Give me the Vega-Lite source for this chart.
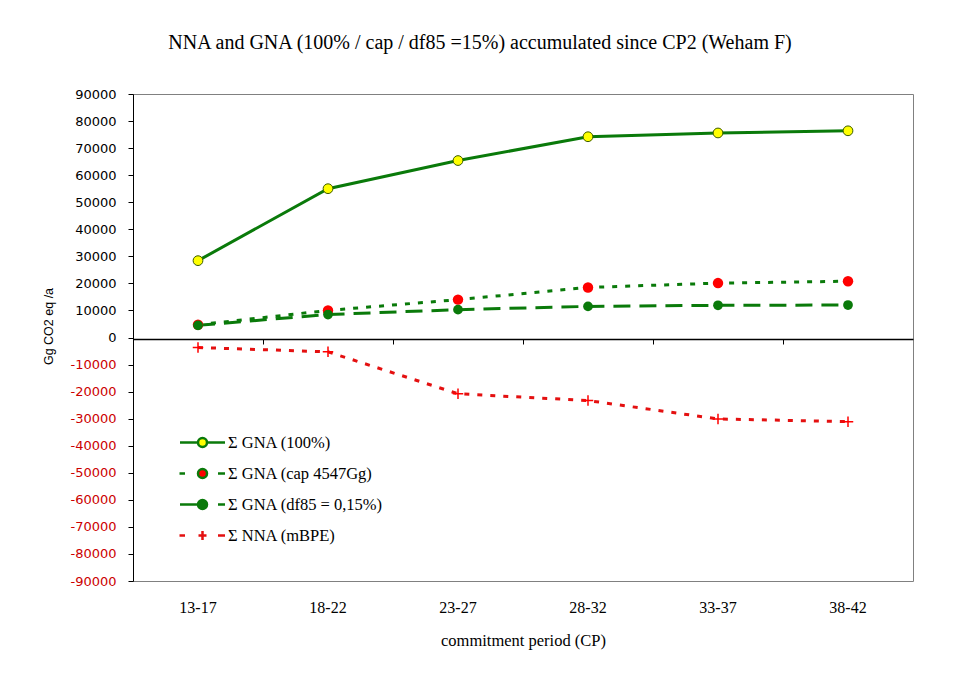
{
  "$schema": "https://vega.github.io/schema/vega-lite/v6.json",
  "width": 780,
  "height": 487,
  "autosize": "none",
  "padding": {"left": 133, "top": 94, "right": 52, "bottom": 111},
  "background": "white",
  "title": {
    "text": "NNA and GNA (100% / cap / df85 =15%) accumulated since CP2 (Weham F)",
    "font": "Liberation Serif",
    "fontSize": 20,
    "fontWeight": "normal",
    "color": "black",
    "anchor": "middle",
    "frame": "group",
    "dx": -43,
    "offset": 35
  },
  "config": {
    "view": {"stroke": "#808080", "strokeWidth": 1},
    "axis": {"grid": false}
  },
  "data": {
    "values": [
      {"cp": "13-17", "series": "Σ GNA (100%)", "value": 28400},
      {"cp": "18-22", "series": "Σ GNA (100%)", "value": 55000},
      {"cp": "23-27", "series": "Σ GNA (100%)", "value": 65400},
      {"cp": "28-32", "series": "Σ GNA (100%)", "value": 74200},
      {"cp": "33-37", "series": "Σ GNA (100%)", "value": 75600},
      {"cp": "38-42", "series": "Σ GNA (100%)", "value": 76400},
      {"cp": "13-17", "series": "Σ GNA (cap 4547Gg)", "value": 4700},
      {"cp": "18-22", "series": "Σ GNA (cap 4547Gg)", "value": 10000},
      {"cp": "23-27", "series": "Σ GNA (cap 4547Gg)", "value": 14000},
      {"cp": "28-32", "series": "Σ GNA (cap 4547Gg)", "value": 18500},
      {"cp": "33-37", "series": "Σ GNA (cap 4547Gg)", "value": 20100},
      {"cp": "38-42", "series": "Σ GNA (cap 4547Gg)", "value": 20800},
      {"cp": "13-17", "series": "Σ GNA (df85 = 0,15%)", "value": 4500},
      {"cp": "18-22", "series": "Σ GNA (df85 = 0,15%)", "value": 8500},
      {"cp": "23-27", "series": "Σ GNA (df85 = 0,15%)", "value": 10300},
      {"cp": "28-32", "series": "Σ GNA (df85 = 0,15%)", "value": 11500},
      {"cp": "33-37", "series": "Σ GNA (df85 = 0,15%)", "value": 11900},
      {"cp": "38-42", "series": "Σ GNA (df85 = 0,15%)", "value": 12000},
      {"cp": "13-17", "series": "Σ NNA (mBPE)", "value": -3700},
      {"cp": "18-22", "series": "Σ NNA (mBPE)", "value": -5300},
      {"cp": "23-27", "series": "Σ NNA (mBPE)", "value": -20800},
      {"cp": "28-32", "series": "Σ NNA (mBPE)", "value": -23300},
      {"cp": "33-37", "series": "Σ NNA (mBPE)", "value": -30100},
      {"cp": "38-42", "series": "Σ NNA (mBPE)", "value": -31100}
    ]
  },
  "encoding": {
    "x": {
      "field": "cp", "type": "ordinal", "bandPosition": 0.5,
      "sort": ["13-17", "18-22", "23-27", "28-32", "33-37", "38-42"],
      "scale": {"type": "band", "paddingInner": 0, "paddingOuter": 0},
      "axis": null
    },
    "y": {
      "field": "value", "type": "quantitative",
      "scale": {"domain": [-90000, 90000], "nice": false, "zero": false},
      "axis": {
        "title": "Gg CO2 eq /a",
        "values": [-90000, -80000, -70000, -60000, -50000, -40000, -30000, -20000, -10000, 0, 10000, 20000, 30000, 40000, 50000, 60000, 70000, 80000, 90000],
        "labelExpr": "'' + datum.value",
        "labelFont": "DejaVu Sans",
        "labelFontSize": 13,
        "labelPadding": 12,
        "labelColor": {"expr": "datum.value < 0 ? '#cc0000' : '#000000'"},
        "tickSize": 5,
        "tickColor": "black",
        "domainColor": "black",
        "titleFont": "Liberation Sans",
        "titleFontSize": 12.5,
        "titleFontWeight": "normal",
        "titleColor": "#000000",
        "titleX": -78,
        "titleY": 232,
        "titleAngle": -90,
        "titleBaseline": "bottom",
        "titleAlign": "center"
      }
    }
  },
  "resolve": {"axis": {"x": "independent"}},
  "layer": [
    {
      "transform": [{"filter": "datum.series === 'Σ GNA (df85 = 0,15%)'"}],
      "mark": {"type": "line", "color": "#0a7a0a", "strokeWidth": 3, "strokeDash": [17, 9]},
      "encoding": {
        "x": {
          "field": "cp", "type": "ordinal", "bandPosition": 0.5,
          "sort": ["13-17", "18-22", "23-27", "28-32", "33-37", "38-42"],
          "scale": {"type": "band", "paddingInner": 0, "paddingOuter": 0},
          "axis": {
            "title": "commitment period (CP)",
            "orient": "bottom",
            "bandPosition": 0.5,
            "domain": false,
            "ticks": false,
            "labelAngle": 0,
            "labelFont": "Liberation Serif",
            "labelFontSize": 16,
            "labelColor": "black",
            "labelPadding": 18,
            "titleFont": "Liberation Serif",
            "titleFontSize": 16.5,
            "titleFontWeight": "normal",
            "titleColor": "black",
            "titlePadding": 17
          }
        }
      }
    },
    {
      "transform": [{"filter": "datum.series === 'Σ GNA (cap 4547Gg)'"}],
      "mark": {"type": "line", "color": "#0a7a0a", "strokeWidth": 3, "strokeDash": [5, 8]},
      "encoding": {
        "x": {
          "field": "cp", "type": "ordinal", "bandPosition": 0.5,
          "sort": ["13-17", "18-22", "23-27", "28-32", "33-37", "38-42"],
          "scale": {"type": "band", "paddingInner": 0, "paddingOuter": 0},
          "axis": {
            "title": null,
            "orient": "bottom",
            "offset": -242,
            "bandPosition": 0,
            "labels": false,
            "domainColor": "black",
            "domainWidth": 1.5,
            "tickColor": "black",
            "tickSize": 5
          }
        }
      }
    },
    {
      "transform": [{"filter": "datum.series === 'Σ GNA (100%)'"}],
      "mark": {"type": "line", "color": "#0a7a0a", "strokeWidth": 3}
    },
    {
      "transform": [{"filter": "datum.series === 'Σ NNA (mBPE)'"}],
      "mark": {"type": "line", "color": "#e41010", "strokeWidth": 3, "strokeDash": [5, 8]}
    },
    {
      "transform": [{"filter": "datum.series === 'Σ GNA (100%)'"}],
      "mark": {"type": "point", "shape": "circle", "filled": true, "size": 95, "fill": "#ffff00", "stroke": "#3a5a00", "strokeWidth": 1, "opacity": 1}
    },
    {
      "transform": [{"filter": "datum.series === 'Σ GNA (cap 4547Gg)'"}],
      "mark": {"type": "point", "shape": "circle", "filled": true, "size": 110, "fill": "#ff0000", "strokeWidth": 0, "opacity": 1}
    },
    {
      "transform": [{"filter": "datum.series === 'Σ GNA (df85 = 0,15%)'"}],
      "mark": {"type": "point", "shape": "circle", "filled": true, "size": 95, "fill": "#0a7a0a", "strokeWidth": 0, "opacity": 1}
    },
    {
      "transform": [{"filter": "datum.series === 'Σ NNA (mBPE)'"}],
      "mark": {"type": "point", "shape": "M-1,0H1M0,-1V1", "filled": false, "size": 110, "stroke": "#ff0000", "strokeWidth": 1.5, "opacity": 1}
    },
    {
      "mark": {"type": "point", "filled": true, "opacity": 0},
      "encoding": {
        "shape": {
          "field": "series", "type": "nominal",
          "scale": {
            "domain": ["Σ GNA (100%)", "Σ GNA (cap 4547Gg)", "Σ GNA (df85 = 0,15%)", "Σ NNA (mBPE)"],
            "range": [
              "M-2.25,0H-0.45M0.45,0H2.25M0.45,0A0.45,0.45,0,1,1,-0.45,0A0.45,0.45,0,1,1,0.45,0Z",
              "M-2.3,0H-1.75M1.55,0H2.25M0.45,0A0.45,0.45,0,1,1,-0.45,0A0.45,0.45,0,1,1,0.45,0Z",
              "M-2.25,0H-0.45M1.55,0H2.25M0.45,0A0.45,0.45,0,1,1,-0.45,0A0.45,0.45,0,1,1,0.45,0Z",
              "M-2.3,0H-1.75M1.55,0H2.25M-0.4,0H0.4M0,-0.45V0.45"
            ]
          },
          "legend": {
            "title": null,
            "orient": "none",
            "legendX": 58,
            "legendY": 337,
            "padding": 0,
            "symbolSize": 400,
            "symbolOpacity": 1,
            "symbolStrokeWidth": 2.5,
            "labelOffset": 14,
            "labelFont": "Liberation Serif",
            "labelFontSize": 16.5,
            "labelColor": "black",
            "rowPadding": 10
          }
        },
        "fill": {
          "field": "series", "type": "nominal",
          "scale": {
            "domain": ["Σ GNA (100%)", "Σ GNA (cap 4547Gg)", "Σ GNA (df85 = 0,15%)", "Σ NNA (mBPE)"],
            "range": ["#ffff00", "#ff0000", "#0a7a0a", "transparent"]
          }
        },
        "stroke": {
          "field": "series", "type": "nominal",
          "scale": {
            "domain": ["Σ GNA (100%)", "Σ GNA (cap 4547Gg)", "Σ GNA (df85 = 0,15%)", "Σ NNA (mBPE)"],
            "range": ["#0a7a0a", "#0a7a0a", "#0a7a0a", "#e41010"]
          }
        }
      }
    }
  ]
}
